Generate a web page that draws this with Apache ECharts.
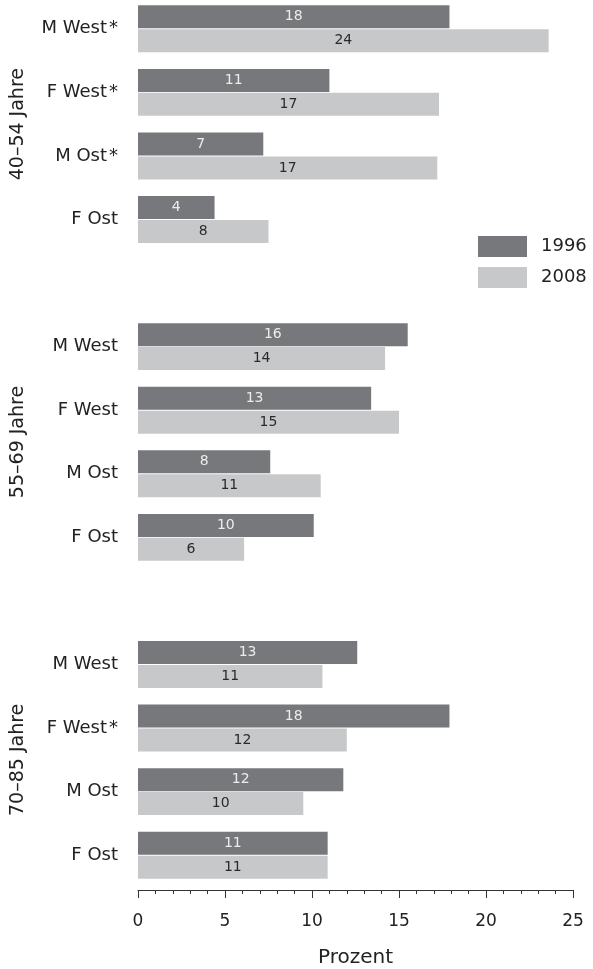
<!DOCTYPE html>
<html>
<head>
<meta charset="utf-8">
<script src="https://cdn.jsdelivr.net/npm/echarts@6/dist/echarts.min.js"></script>
<style>
  html, body { margin: 0; padding: 0; background: #fff; }
  #chart { width: 593px; height: 969px; }
</style>
</head>
<body>
<div id="chart"></div>
<script>
// Age groups and the four sub-groups shown in each
const groupNames = ['40–54 Jahre', '55–69 Jahre', '70–85 Jahre'];
const groupCats1 = ['M West*', 'F West*', 'M Ost*', 'F Ost'];
const groupCats2 = ['M West', 'F West', 'M Ost', 'F Ost'];
const groupCats3 = ['M West', 'F West*', 'M Ost', 'F Ost'];

// Shares in percent, per group
const y1996g1 = [17.9, 11.0, 7.2, 4.4];
const y2008g1 = [23.6, 17.3, 17.2, 7.5];
const y1996g2 = [15.5, 13.4, 7.6, 10.1];
const y2008g2 = [14.2, 15.0, 10.5, 6.1];
const y1996g3 = [12.6, 17.9, 11.8, 10.9];
const y2008g3 = [10.6, 12.0, 9.5, 10.9];

const seriesNames = ['1996', '2008'];
const xTicks = [0, 5, 10, 15, 20, 25];

// One empty slot separates the age groups on the category axis
const categories = [...groupCats1, '', ...groupCats2, '', ...groupCats3];
const gap = ['-'];
const data1996 = [...y1996g1, ...gap, ...y1996g2, ...gap, ...y1996g3];
const data2008 = [...y2008g1, ...gap, ...y2008g2, ...gap, ...y2008g3];

const FONT = 'DejaVu Sans';
const DARK = '#77787b';
const LIGHT = '#c7c8ca';

const chart = echarts.init(document.getElementById('chart'), null, { renderer: 'canvas' });

const option = {
  animation: false,
  backgroundColor: '#fff',
  textStyle: { fontFamily: FONT },
  grid: { left: 138, right: 20, top: -3, height: 890, containLabel: false, outerBoundsMode: 'none' },
  legend: {
    data: seriesNames,
    orient: 'vertical',
    left: 478,
    top: 236,
    padding: 0,
    itemWidth: 49,
    itemHeight: 21,
    itemGap: 10,
    icon: 'rect',
    textStyle: { fontFamily: FONT, fontSize: 18, color: '#222', padding: [0, 0, 0, 9] }
  },
  xAxis: {
    type: 'value',
    min: xTicks[0],
    max: xTicks[xTicks.length - 1],
    interval: xTicks[1] - xTicks[0],
    offset: 3,
    name: 'Prozent',
    nameLocation: 'middle',
    nameGap: 58,
    nameTextStyle: { fontFamily: FONT, fontSize: 20, color: '#222' },
    axisLine: { show: true, lineStyle: { color: '#333', width: 1 } },
    axisTick: { show: true, length: 8, lineStyle: { color: '#333' } },
    minorTick: { show: true, splitNumber: 5, length: 4, lineStyle: { color: '#333' } },
    splitLine: { show: false },
    axisLabel: { margin: 23, fontFamily: FONT, fontSize: 17, color: '#222' }
  },
  yAxis: {
    type: 'category',
    inverse: true,
    data: categories,
    axisLine: { show: false },
    axisTick: { show: false },
    axisLabel: {
      margin: 20,
      fontFamily: FONT,
      fontSize: 18,
      color: '#222',
      formatter: function (v) {
        if (v.endsWith('*')) return '{n|' + v.slice(0, -1) + '}{s|*}';
        return '{n|' + v + '}';
      },
      rich: {
        n: { fontFamily: FONT, fontSize: 18, color: '#222' },
        s: { fontFamily: FONT, fontSize: 18, color: '#222', padding: [0, 0, 0, 2] }
      }
    }
  },
  series: [
    {
      name: seriesNames[0],
      type: 'bar',
      data: data1996,
      barWidth: 23,
      barGap: '4%',
      itemStyle: { color: DARK },
      label: {
        show: true,
        position: 'inside',
        fontFamily: FONT,
        fontSize: 14,
        color: '#ececec',
        formatter: p => Math.round(p.value)
      }
    },
    {
      name: seriesNames[1],
      type: 'bar',
      data: data2008,
      barWidth: 23,
      itemStyle: { color: LIGHT },
      label: {
        show: true,
        position: 'inside',
        fontFamily: FONT,
        fontSize: 14,
        color: '#2a2a2a',
        formatter: p => Math.round(p.value)
      }
    }
  ]
};

chart.setOption(option);

// Rotated age-group titles, centred on each block of four categories
const blockStarts = [0, 5, 10];
const graphics = groupNames.map((name, i) => {
  const yTop = chart.convertToPixel({ yAxisIndex: 0 }, blockStarts[i]);
  const yBot = chart.convertToPixel({ yAxisIndex: 0 }, blockStarts[i] + 3);
  return {
    type: 'text',
    x: 18,
    y: (yTop + yBot) / 2,
    rotation: Math.PI / 2,
    style: {
      text: name,
      fontFamily: FONT,
      fontSize: 19,
      fill: '#222',
      textAlign: 'center',
      textVerticalAlign: 'middle'
    }
  };
});
chart.setOption({ graphic: graphics });
</script>
</body>
</html>
